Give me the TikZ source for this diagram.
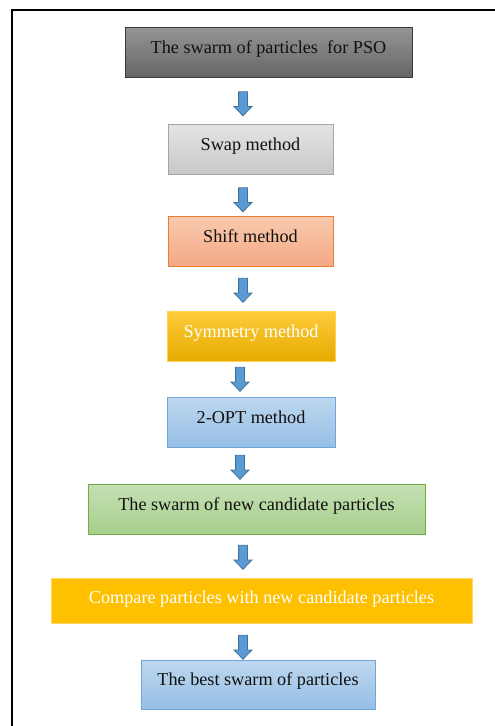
\documentclass[tikz,border=0pt]{standalone}
\usepackage{fontspec}
\setmainfont{Liberation Serif}
\usetikzlibrary{shapes.arrows}
\definecolor{arrowfill}{HTML}{5B9BD5}
\definecolor{arrowline}{HTML}{41719C}
\definecolor{gA1}{HTML}{959595}\definecolor{gA2}{HTML}{666666}\definecolor{gAb}{HTML}{3A3A3A}
\definecolor{gB1}{HTML}{E4E4E4}\definecolor{gB2}{HTML}{C8C8C8}\definecolor{gBb}{HTML}{A5A5A5}
\definecolor{oA1}{HTML}{F8CBAD}\definecolor{oA2}{HTML}{F4A886}\definecolor{oAb}{HTML}{ED7D31}
\definecolor{yA1}{HTML}{FFCB3A}\definecolor{yA2}{HTML}{E6AC00}\definecolor{yAb}{HTML}{FFD24D}
\definecolor{bA1}{HTML}{BDD7EE}\definecolor{bA2}{HTML}{97BFE6}\definecolor{bAb}{HTML}{6FA5DA}
\definecolor{vA1}{HTML}{C5E0B4}\definecolor{vA2}{HTML}{A5CF8A}\definecolor{vAb}{HTML}{70AD47}
\definecolor{cmp}{HTML}{FFC000}\definecolor{cmpb}{HTML}{FFD966}
\definecolor{txt}{HTML}{111111}
\tikzset{
  x=1pt, y=-1pt,
  stage/.style={rectangle, inner sep=0pt, line width=1pt, text=txt,
    font=\fontsize{18.2}{21}\selectfont, text height=26pt, text depth=24pt},
  downarrow/.style={single arrow, rotate=-90, draw=arrowline, fill=arrowfill,
    line width=0.8pt, minimum height=24pt, minimum width=17pt, inner sep=4pt,
    single arrow head extend=4.5pt, single arrow tip angle=88},
}
\begin{document}
\begin{tikzpicture}
\useasboundingbox (0,0) rectangle (495,726);
% frame
\draw[line width=2pt] (12,726) -- (12,10) -- (495,10);
% stages
\node[stage, minimum width=287pt, top color=gA1, bottom color=gA2, draw=gAb]
  (s1) at (268.5,52) {The swarm of particles\ \ for PSO};
\node[stage, minimum width=165pt, top color=gB1, bottom color=gB2, draw=gBb]
  (s2) at (250.5,149) {Swap method};
\node[stage, minimum width=165pt, top color=oA1, bottom color=oA2, draw=oAb]
  (s3) at (250.5,241) {Shift method};
\node[stage, minimum width=168pt, top color=yA1, bottom color=yA2, draw=yAb, text=white]
  (s4) at (251,336) {Symmetry method};
\node[stage, minimum width=168pt, top color=bA1, bottom color=bA2, draw=bAb]
  (s5) at (251,422) {2-OPT method};
\node[stage, minimum width=337pt, top color=vA1, bottom color=vA2, draw=vAb]
  (s6) at (256.5,509) {The swarm of new candidate particles};
\node[stage, minimum width=421pt, text height=25pt, text depth=20pt, fill=cmp, draw=cmpb, text=white]
  (s7) at (261.5,600.5) {Compare particles with new candidate particles};
\node[stage, minimum width=234pt, text height=25pt, text depth=24pt, top color=bA1, bottom color=bA2, draw=bAb]
  (s8) at (258,684.5) {The best swarm of particles};
% arrows
\node[downarrow] (a1) at (243,101.5) {};
\node[downarrow] (a2) at (243,197.5) {};
\node[downarrow] (a3) at (243,288) {};
\node[downarrow] (a4) at (240,377) {};
\node[downarrow] (a5) at (240,465) {};
\node[downarrow] (a6) at (243,555) {};
\node[downarrow] (a7) at (243,645) {};
\end{tikzpicture}
\end{document}
